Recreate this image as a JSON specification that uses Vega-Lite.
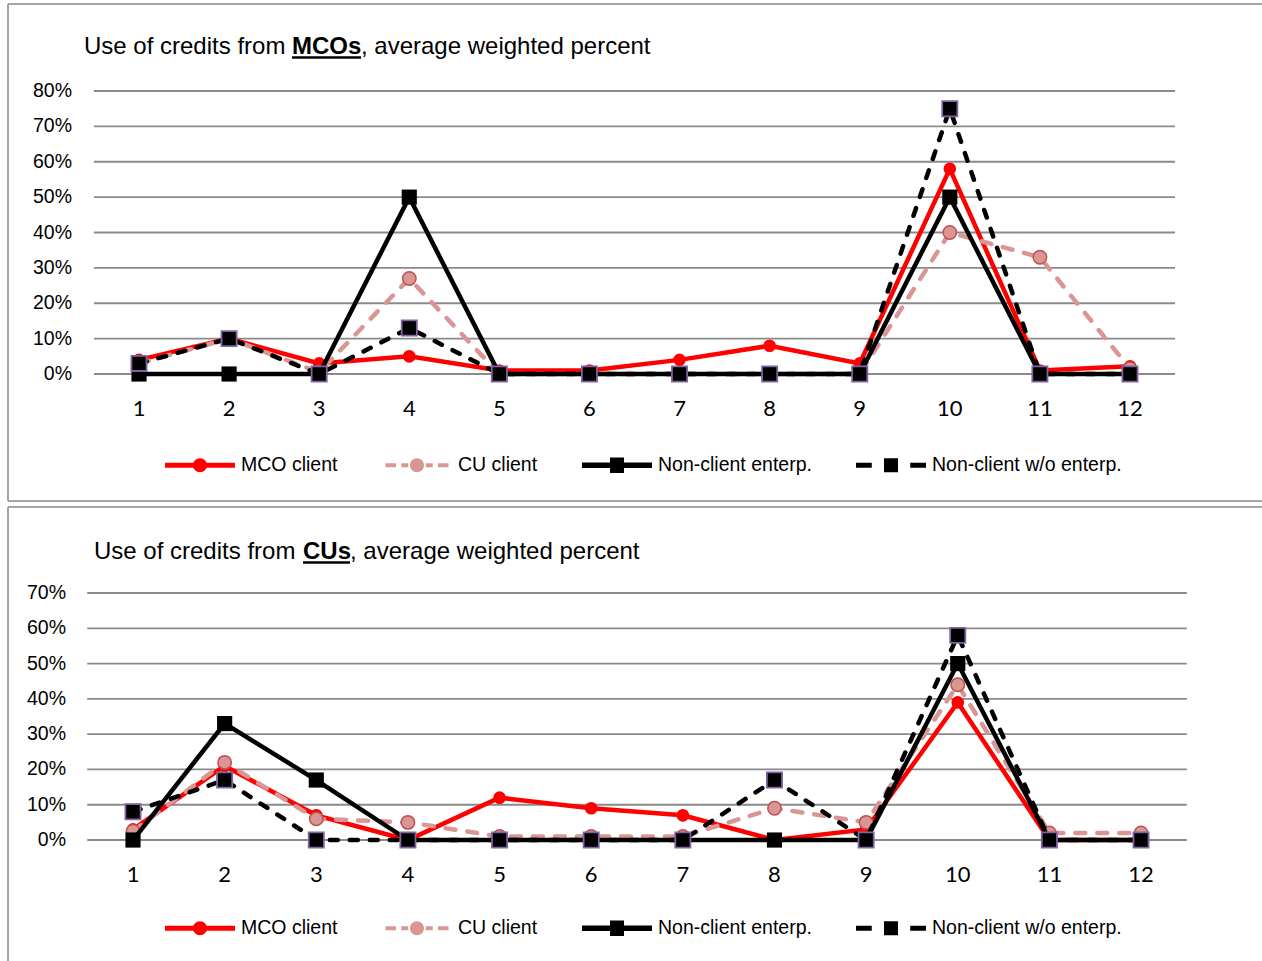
{
  "$schema": "https://vega.github.io/schema/vega-lite/v6.json",
  "background": "white",
  "padding": {"left": 7, "top": 3, "right": 0, "bottom": 0},
  "spacing": 3,
  "config": {"view": {"stroke": null}},
  "resolve": {"scale": {"color": "independent", "shape": "independent", "x": "independent", "y": "independent"}, "legend": {"color": "independent", "shape": "independent"}},
  "datasets": {
    "mco": [
      {"x": 1, "s": "MCO client", "v": 0.04}, {"x": 2, "s": "MCO client", "v": 0.10}, {"x": 3, "s": "MCO client", "v": 0.03}, {"x": 4, "s": "MCO client", "v": 0.05},
      {"x": 5, "s": "MCO client", "v": 0.01}, {"x": 6, "s": "MCO client", "v": 0.01}, {"x": 7, "s": "MCO client", "v": 0.04}, {"x": 8, "s": "MCO client", "v": 0.08},
      {"x": 9, "s": "MCO client", "v": 0.03}, {"x": 10, "s": "MCO client", "v": 0.58}, {"x": 11, "s": "MCO client", "v": 0.01}, {"x": 12, "s": "MCO client", "v": 0.022},
      {"x": 1, "s": "CU client", "v": 0.03}, {"x": 2, "s": "CU client", "v": 0.10}, {"x": 3, "s": "CU client", "v": 0.005}, {"x": 4, "s": "CU client", "v": 0.27},
      {"x": 5, "s": "CU client", "v": 0.0}, {"x": 6, "s": "CU client", "v": 0.0}, {"x": 7, "s": "CU client", "v": 0.0}, {"x": 8, "s": "CU client", "v": 0.0},
      {"x": 9, "s": "CU client", "v": 0.0}, {"x": 10, "s": "CU client", "v": 0.40}, {"x": 11, "s": "CU client", "v": 0.33}, {"x": 12, "s": "CU client", "v": 0.015},
      {"x": 1, "s": "Non-client enterp.", "v": 0.0}, {"x": 2, "s": "Non-client enterp.", "v": 0.0}, {"x": 3, "s": "Non-client enterp.", "v": 0.0}, {"x": 4, "s": "Non-client enterp.", "v": 0.50},
      {"x": 5, "s": "Non-client enterp.", "v": 0.0}, {"x": 6, "s": "Non-client enterp.", "v": 0.0}, {"x": 7, "s": "Non-client enterp.", "v": 0.0}, {"x": 8, "s": "Non-client enterp.", "v": 0.0},
      {"x": 9, "s": "Non-client enterp.", "v": 0.0}, {"x": 10, "s": "Non-client enterp.", "v": 0.50}, {"x": 11, "s": "Non-client enterp.", "v": 0.0}, {"x": 12, "s": "Non-client enterp.", "v": 0.0},
      {"x": 1, "s": "Non-client w/o enterp.", "v": 0.03}, {"x": 2, "s": "Non-client w/o enterp.", "v": 0.10}, {"x": 3, "s": "Non-client w/o enterp.", "v": 0.0}, {"x": 4, "s": "Non-client w/o enterp.", "v": 0.13},
      {"x": 5, "s": "Non-client w/o enterp.", "v": 0.0}, {"x": 6, "s": "Non-client w/o enterp.", "v": 0.0}, {"x": 7, "s": "Non-client w/o enterp.", "v": 0.0}, {"x": 8, "s": "Non-client w/o enterp.", "v": 0.0},
      {"x": 9, "s": "Non-client w/o enterp.", "v": 0.0}, {"x": 10, "s": "Non-client w/o enterp.", "v": 0.75}, {"x": 11, "s": "Non-client w/o enterp.", "v": 0.0}, {"x": 12, "s": "Non-client w/o enterp.", "v": 0.0}
    ],
    "cu": [
      {"x": 1, "s": "MCO client", "v": 0.03}, {"x": 2, "s": "MCO client", "v": 0.21}, {"x": 3, "s": "MCO client", "v": 0.07}, {"x": 4, "s": "MCO client", "v": 0.0},
      {"x": 5, "s": "MCO client", "v": 0.12}, {"x": 6, "s": "MCO client", "v": 0.09}, {"x": 7, "s": "MCO client", "v": 0.07}, {"x": 8, "s": "MCO client", "v": 0.0},
      {"x": 9, "s": "MCO client", "v": 0.03}, {"x": 10, "s": "MCO client", "v": 0.39}, {"x": 11, "s": "MCO client", "v": 0.0}, {"x": 12, "s": "MCO client", "v": 0.0},
      {"x": 1, "s": "CU client", "v": 0.025}, {"x": 2, "s": "CU client", "v": 0.22}, {"x": 3, "s": "CU client", "v": 0.06}, {"x": 4, "s": "CU client", "v": 0.05},
      {"x": 5, "s": "CU client", "v": 0.01}, {"x": 6, "s": "CU client", "v": 0.01}, {"x": 7, "s": "CU client", "v": 0.01}, {"x": 8, "s": "CU client", "v": 0.09},
      {"x": 9, "s": "CU client", "v": 0.05}, {"x": 10, "s": "CU client", "v": 0.44}, {"x": 11, "s": "CU client", "v": 0.02}, {"x": 12, "s": "CU client", "v": 0.02},
      {"x": 1, "s": "Non-client enterp.", "v": 0.0}, {"x": 2, "s": "Non-client enterp.", "v": 0.33}, {"x": 3, "s": "Non-client enterp.", "v": 0.17}, {"x": 4, "s": "Non-client enterp.", "v": 0.0},
      {"x": 5, "s": "Non-client enterp.", "v": 0.0}, {"x": 6, "s": "Non-client enterp.", "v": 0.0}, {"x": 7, "s": "Non-client enterp.", "v": 0.0}, {"x": 8, "s": "Non-client enterp.", "v": 0.0},
      {"x": 9, "s": "Non-client enterp.", "v": 0.0}, {"x": 10, "s": "Non-client enterp.", "v": 0.50}, {"x": 11, "s": "Non-client enterp.", "v": 0.0}, {"x": 12, "s": "Non-client enterp.", "v": 0.0},
      {"x": 1, "s": "Non-client w/o enterp.", "v": 0.08}, {"x": 2, "s": "Non-client w/o enterp.", "v": 0.17}, {"x": 3, "s": "Non-client w/o enterp.", "v": 0.0}, {"x": 4, "s": "Non-client w/o enterp.", "v": 0.0},
      {"x": 5, "s": "Non-client w/o enterp.", "v": 0.0}, {"x": 6, "s": "Non-client w/o enterp.", "v": 0.0}, {"x": 7, "s": "Non-client w/o enterp.", "v": 0.0}, {"x": 8, "s": "Non-client w/o enterp.", "v": 0.17},
      {"x": 9, "s": "Non-client w/o enterp.", "v": 0.0}, {"x": 10, "s": "Non-client w/o enterp.", "v": 0.58}, {"x": 11, "s": "Non-client w/o enterp.", "v": 0.0}, {"x": 12, "s": "Non-client w/o enterp.", "v": 0.0}
    ],
    "ticks": [{"t": 1}, {"t": 2}, {"t": 3}, {"t": 4}, {"t": 5}, {"t": 6}, {"t": 7}, {"t": 8}, {"t": 9}, {"t": 10}, {"t": 11}, {"t": 12}]
  },
  "vconcat": [
    {
      "width": 1255,
      "height": 499,
      "data": {"name": "mco"},
      "layer": [
        {"data": {"values": [{}]}, "mark": {"type": "rule", "color": "#a5a5a5", "strokeWidth": 2},
         "encoding": {"x": {"datum": -0.4541, "type": "quantitative", "scale": {"domain": [-0.4652, 13.4653], "nice": false, "zero": false}, "axis": null}, "y": {"datum": -0.359, "type": "quantitative", "scale": {"domain": [-0.3618, 1.0488], "nice": false, "zero": false}, "axis": null}, "y2": {"datum": 1.0459}}},
        {"data": {"values": [{}]}, "mark": {"type": "rule", "color": "#a5a5a5", "strokeWidth": 2},
         "encoding": {"x": {"datum": -0.4541, "axis": null}, "x2": {"datum": 13.4653}, "y": {"datum": 1.0459, "axis": null}}},
        {"data": {"values": [{}]}, "mark": {"type": "rule", "color": "#a5a5a5", "strokeWidth": 2},
         "encoding": {"x": {"datum": -0.4541, "axis": null}, "x2": {"datum": 13.4653}, "y": {"datum": -0.359, "axis": null}}},
        {"data": {"values": [{"g": 0}, {"g": 0.1}, {"g": 0.2}, {"g": 0.3}, {"g": 0.4}, {"g": 0.5}, {"g": 0.6}, {"g": 0.7}, {"g": 0.8}]},
         "layer": [
           {"mark": {"type": "rule", "color": "#8a8a8a", "strokeWidth": 1.8},
            "encoding": {"x": {"datum": 0.5, "axis": null}, "x2": {"datum": 12.5}, "y": {"field": "g", "type": "quantitative", "axis": null}}},
           {"mark": {"type": "text", "align": "right", "baseline": "middle", "font": "Liberation Sans", "fontSize": 19.5, "color": "black"},
            "encoding": {"x": {"datum": 0.2563, "axis": null}, "y": {"field": "g", "type": "quantitative", "axis": null}, "text": {"field": "g", "type": "quantitative", "format": ".0%"}}}
         ]},
        {"data": {"name": "ticks"}, "mark": {"type": "text", "align": "center", "baseline": "alphabetic", "font": "Lato", "fontSize": 22, "color": "black"},
         "encoding": {"x": {"field": "t", "type": "quantitative", "axis": null}, "y": {"datum": -0.1187, "axis": null}, "text": {"field": "t", "type": "quantitative", "format": "d"}}},
        {"data": {"values": [{}]}, "mark": {"type": "text", "text": "Use of credits from", "align": "left", "baseline": "alphabetic", "font": "Liberation Sans", "fontSize": 24, "color": "black"},
         "encoding": {"x": {"datum": 0.3895, "axis": null}, "y": {"datum": 0.9046, "axis": null}}},
        {"data": {"values": [{}]}, "mark": {"type": "text", "text": "MCOs", "align": "left", "baseline": "alphabetic", "font": "Liberation Sans", "fontSize": 24, "fontWeight": "bold", "color": "black"},
         "encoding": {"x": {"datum": 2.6983, "axis": null}, "y": {"datum": 0.9046, "axis": null}}},
        {"data": {"values": [{}]}, "mark": {"type": "text", "text": ", average weighted percent", "align": "left", "baseline": "alphabetic", "font": "Liberation Sans", "fontSize": 24, "color": "black"},
         "encoding": {"x": {"datum": 3.4642, "axis": null}, "y": {"datum": 0.9046, "axis": null}}},
        {"data": {"values": [{}]}, "mark": {"type": "rule", "color": "black", "strokeWidth": 2.4},
         "encoding": {"x": {"datum": 2.6983, "axis": null}, "x2": {"datum": 3.4642}, "y": {"datum": 0.8947, "axis": null}}},
        {"data": {"values": []},
         "mark": {"type": "point", "filled": true, "opacity": 1, "strokeWidth": 0},
         "encoding": {
           "shape": {"field": "s", "type": "nominal",
                     "scale": {"domain": ["MCO client", "CU client", "Non-client enterp.", "Non-client w/o enterp."],
                               "range": ["M-1,-0.07H1V0.07H-1Z M0.2,0A0.2,0.2,0,1,1,-0.2,0A0.2,0.2,0,1,1,0.2,0Z",
                                         "M-0.9,-0.06H-0.6V0.06H-0.9Z M-0.45,-0.06H-0.25V0.06H-0.45Z M0.25,-0.06H0.45V0.06H0.25Z M0.6,-0.06H0.9V0.06H0.6Z M0.2,0A0.2,0.2,0,1,1,-0.2,0A0.2,0.2,0,1,1,0.2,0Z",
                                         "M-1,-0.08H1V0.08H-1Z M-0.2,-0.22H0.2V0.22H-0.2Z",
                                         "M-1,-0.07H-0.55V0.07H-1Z M0.55,-0.07H1V0.07H0.55Z M-0.2,-0.2H0.2V0.2H-0.2Z"]},
                     "legend": {"orient": "none", "legendX": 158, "legendY": 427, "direction": "horizontal", "title": null, "symbolSize": 4900, "symbolStrokeWidth": 0, "labelFont": "Liberation Sans", "labelFontSize": 19.5, "labelColor": "black", "labelOffset": 6, "columnPadding": 44, "padding": 0, "labelLimit": 400}},
           "color": {"field": "s", "type": "nominal",
                     "scale": {"domain": ["MCO client", "CU client", "Non-client enterp.", "Non-client w/o enterp."], "range": ["#ff0000", "#d99694", "#000000", "#000000"]},
                     "legend": {"orient": "none", "legendX": 158, "legendY": 427, "direction": "horizontal", "title": null, "symbolSize": 4900, "symbolStrokeWidth": 0, "labelFont": "Liberation Sans", "labelFontSize": 19.5, "labelColor": "black", "labelOffset": 6, "columnPadding": 44, "padding": 0, "labelLimit": 400}}
         }},
        {
          "transform": [{"filter": "datum.s === 'MCO client'"}],
          "mark": {"type": "line", "strokeWidth": 4.5, "point": {"filled": true, "size": 160, "shape": "circle"}},
          "encoding": {
            "x": {"field": "x", "type": "quantitative", "axis": null},
            "y": {"field": "v", "type": "quantitative", "axis": null},
            "color": {"field": "s", "type": "nominal", "legend": null}
          }
        },
        {
          "transform": [{"filter": "datum.s === 'CU client'"}],
          "mark": {"type": "line", "strokeWidth": 4.5, "strokeDash": [10, 12], "strokeCap": "round", "point": {"filled": true, "size": 180, "shape": "circle", "stroke": "#c0504d", "strokeWidth": 1.5}},
          "encoding": {
            "x": {"field": "x", "type": "quantitative", "axis": null},
            "y": {"field": "v", "type": "quantitative", "axis": null},
            "color": {"field": "s", "type": "nominal", "legend": null}
          }
        },
        {
          "transform": [{"filter": "datum.s === 'Non-client enterp.'"}],
          "mark": {"type": "line", "strokeWidth": 4.5, "point": {"filled": true, "size": 230, "shape": "square"}},
          "encoding": {
            "x": {"field": "x", "type": "quantitative", "axis": null},
            "y": {"field": "v", "type": "quantitative", "axis": null},
            "color": {"field": "s", "type": "nominal", "legend": null}
          }
        },
        {
          "transform": [{"filter": "datum.s === 'Non-client w/o enterp.'"}],
          "mark": {"type": "line", "strokeWidth": 4.5, "strokeDash": [8, 12], "strokeCap": "round", "point": {"filled": true, "size": 230, "shape": "square", "stroke": "#8064a2", "strokeWidth": 1.8}},
          "encoding": {
            "x": {"field": "x", "type": "quantitative", "axis": null},
            "y": {"field": "v", "type": "quantitative", "axis": null},
            "color": {"field": "s", "type": "nominal", "legend": null}
          }
        }
      ]
    },
    {
      "width": 1255,
      "height": 456,
      "data": {"name": "cu"},
      "layer": [
        {"data": {"values": [{}]}, "mark": {"type": "rule", "color": "#a5a5a5", "strokeWidth": 2},
         "encoding": {"x": {"datum": -0.364, "type": "quantitative", "scale": {"domain": [-0.375, 13.32], "nice": false, "zero": false}, "axis": null}, "y": {"datum": -0.3457, "type": "quantitative", "scale": {"domain": [-0.3457, 0.9466], "nice": false, "zero": false}, "axis": null}, "y2": {"datum": 0.9437}}},
        {"data": {"values": [{}]}, "mark": {"type": "rule", "color": "#a5a5a5", "strokeWidth": 2},
         "encoding": {"x": {"datum": -0.364, "axis": null}, "x2": {"datum": 13.32}, "y": {"datum": 0.9437, "axis": null}}},
        {"data": {"values": [{"g": 0}, {"g": 0.1}, {"g": 0.2}, {"g": 0.3}, {"g": 0.4}, {"g": 0.5}, {"g": 0.6}, {"g": 0.7}]},
         "layer": [
           {"mark": {"type": "rule", "color": "#8a8a8a", "strokeWidth": 1.8},
            "encoding": {"x": {"datum": 0.5, "axis": null}, "x2": {"datum": 12.5}, "y": {"field": "g", "type": "quantitative", "axis": null}}},
           {"mark": {"type": "text", "align": "right", "baseline": "middle", "font": "Liberation Sans", "fontSize": 19.5, "color": "black"},
            "encoding": {"x": {"datum": 0.2689, "axis": null}, "y": {"field": "g", "type": "quantitative", "axis": null}, "text": {"field": "g", "type": "quantitative", "format": ".0%"}}}
         ]},
        {"data": {"name": "ticks"}, "mark": {"type": "text", "align": "center", "baseline": "alphabetic", "font": "Lato", "fontSize": 22, "color": "black"},
         "encoding": {"x": {"field": "t", "type": "quantitative", "axis": null}, "y": {"datum": -0.119, "axis": null}, "text": {"field": "t", "type": "quantitative", "format": "d"}}},
        {"data": {"values": [{}]}, "mark": {"type": "text", "text": "Use of credits from", "align": "left", "baseline": "alphabetic", "font": "Liberation Sans", "fontSize": 24, "color": "black"},
         "encoding": {"x": {"datum": 0.5744, "axis": null}, "y": {"datum": 0.7963, "axis": null}}},
        {"data": {"values": [{}]}, "mark": {"type": "text", "text": "CUs", "align": "left", "baseline": "alphabetic", "font": "Liberation Sans", "fontSize": 24, "fontWeight": "bold", "color": "black"},
         "encoding": {"x": {"datum": 2.8551, "axis": null}, "y": {"datum": 0.7963, "axis": null}}},
        {"data": {"values": [{}]}, "mark": {"type": "text", "text": ", average weighted percent", "align": "left", "baseline": "alphabetic", "font": "Liberation Sans", "fontSize": 24, "color": "black"},
         "encoding": {"x": {"datum": 3.368, "axis": null}, "y": {"datum": 0.7963, "axis": null}}},
        {"data": {"values": [{}]}, "mark": {"type": "rule", "color": "black", "strokeWidth": 2.4},
         "encoding": {"x": {"datum": 2.8551, "axis": null}, "x2": {"datum": 3.368}, "y": {"datum": 0.7864, "axis": null}}},
        {"data": {"values": []},
         "mark": {"type": "point", "filled": true, "opacity": 1, "strokeWidth": 0},
         "encoding": {
           "shape": {"field": "s", "type": "nominal",
                     "scale": {"domain": ["MCO client", "CU client", "Non-client enterp.", "Non-client w/o enterp."],
                               "range": ["M-1,-0.07H1V0.07H-1Z M0.2,0A0.2,0.2,0,1,1,-0.2,0A0.2,0.2,0,1,1,0.2,0Z",
                                         "M-0.9,-0.06H-0.6V0.06H-0.9Z M-0.45,-0.06H-0.25V0.06H-0.45Z M0.25,-0.06H0.45V0.06H0.25Z M0.6,-0.06H0.9V0.06H0.6Z M0.2,0A0.2,0.2,0,1,1,-0.2,0A0.2,0.2,0,1,1,0.2,0Z",
                                         "M-1,-0.08H1V0.08H-1Z M-0.2,-0.22H0.2V0.22H-0.2Z",
                                         "M-1,-0.07H-0.55V0.07H-1Z M0.55,-0.07H1V0.07H0.55Z M-0.2,-0.2H0.2V0.2H-0.2Z"]},
                     "legend": {"orient": "none", "legendX": 158, "legendY": 387, "direction": "horizontal", "title": null, "symbolSize": 4900, "symbolStrokeWidth": 0, "labelFont": "Liberation Sans", "labelFontSize": 19.5, "labelColor": "black", "labelOffset": 6, "columnPadding": 44, "padding": 0, "labelLimit": 400}},
           "color": {"field": "s", "type": "nominal",
                     "scale": {"domain": ["MCO client", "CU client", "Non-client enterp.", "Non-client w/o enterp."], "range": ["#ff0000", "#d99694", "#000000", "#000000"]},
                     "legend": {"orient": "none", "legendX": 158, "legendY": 387, "direction": "horizontal", "title": null, "symbolSize": 4900, "symbolStrokeWidth": 0, "labelFont": "Liberation Sans", "labelFontSize": 19.5, "labelColor": "black", "labelOffset": 6, "columnPadding": 44, "padding": 0, "labelLimit": 400}}
         }},
        {
          "transform": [{"filter": "datum.s === 'MCO client'"}],
          "mark": {"type": "line", "strokeWidth": 4.5, "point": {"filled": true, "size": 160, "shape": "circle"}},
          "encoding": {
            "x": {"field": "x", "type": "quantitative", "axis": null},
            "y": {"field": "v", "type": "quantitative", "axis": null},
            "color": {"field": "s", "type": "nominal", "legend": null}
          }
        },
        {
          "transform": [{"filter": "datum.s === 'CU client'"}],
          "mark": {"type": "line", "strokeWidth": 4.5, "strokeDash": [10, 12], "strokeCap": "round", "point": {"filled": true, "size": 180, "shape": "circle", "stroke": "#c0504d", "strokeWidth": 1.5}},
          "encoding": {
            "x": {"field": "x", "type": "quantitative", "axis": null},
            "y": {"field": "v", "type": "quantitative", "axis": null},
            "color": {"field": "s", "type": "nominal", "legend": null}
          }
        },
        {
          "transform": [{"filter": "datum.s === 'Non-client enterp.'"}],
          "mark": {"type": "line", "strokeWidth": 4.5, "point": {"filled": true, "size": 230, "shape": "square"}},
          "encoding": {
            "x": {"field": "x", "type": "quantitative", "axis": null},
            "y": {"field": "v", "type": "quantitative", "axis": null},
            "color": {"field": "s", "type": "nominal", "legend": null}
          }
        },
        {
          "transform": [{"filter": "datum.s === 'Non-client w/o enterp.'"}],
          "mark": {"type": "line", "strokeWidth": 4.5, "strokeDash": [8, 12], "strokeCap": "round", "point": {"filled": true, "size": 230, "shape": "square", "stroke": "#8064a2", "strokeWidth": 1.8}},
          "encoding": {
            "x": {"field": "x", "type": "quantitative", "axis": null},
            "y": {"field": "v", "type": "quantitative", "axis": null},
            "color": {"field": "s", "type": "nominal", "legend": null}
          }
        }
      ]
    }
  ]
}
